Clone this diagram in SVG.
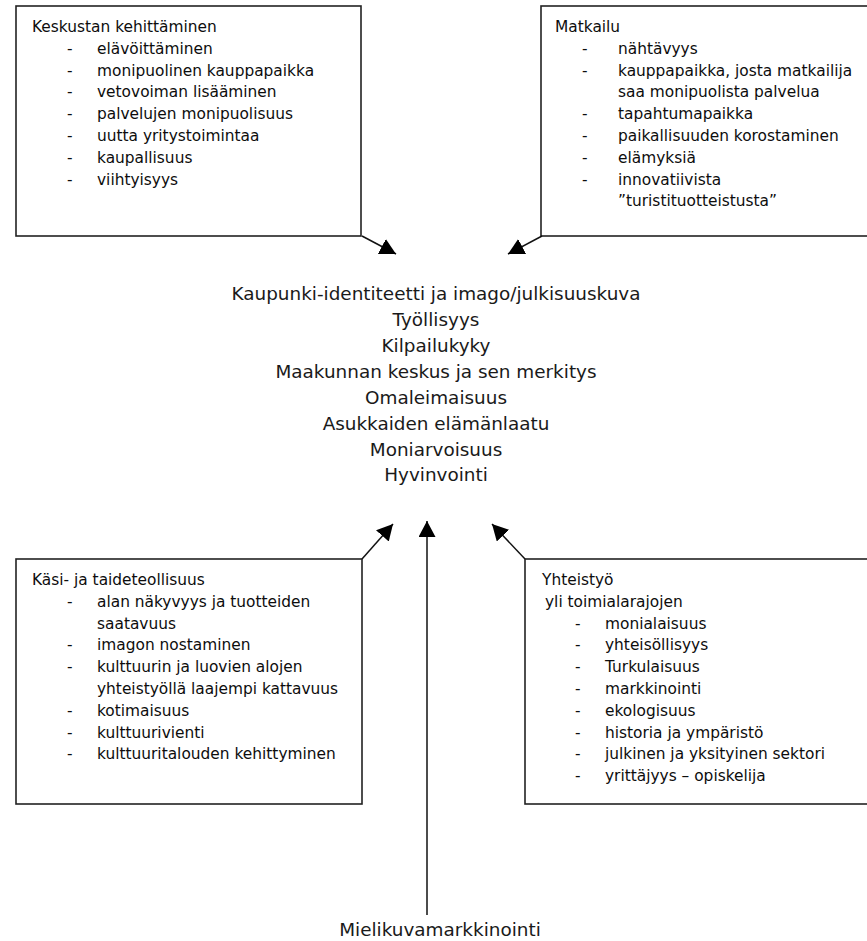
<svg xmlns="http://www.w3.org/2000/svg" width="867" height="941" viewBox="0 0 867 941">
<defs>
<marker id="ah" markerUnits="userSpaceOnUse" markerWidth="18" markerHeight="18" refX="16" refY="8.5" orient="auto">
<path d="M0,0 L16,8.5 L0,17 z" fill="#000"/>
</marker>
</defs>
<style>
.box{fill:#fff;stroke:#222;stroke-width:1.6}
.t{font-family:"DejaVu Sans","Verdana",sans-serif;font-size:15.4px;fill:#0d0d0d}
.c{font-family:"DejaVu Sans","Verdana",sans-serif;font-size:18.4px;fill:#1a1a1a;text-anchor:middle}
.con{stroke:#111;stroke-width:1.5;fill:none;marker-end:url(#ah)}
</style>
<rect width="867" height="941" fill="#fff"/>

<g id="keskusta">
<rect class="box" x="16" y="6" width="345" height="230"/>
<text class="t" x="32" y="32">Keskustan kehittäminen</text>
<g class="t">
<text x="67" y="53.8">-</text><text x="97" y="53.8">elävöittäminen</text>
<text x="67" y="75.6">-</text><text x="97" y="75.6">monipuolinen kauppapaikka</text>
<text x="67" y="97.4">-</text><text x="97" y="97.4">vetovoiman lisääminen</text>
<text x="67" y="119.2">-</text><text x="97" y="119.2">palvelujen monipuolisuus</text>
<text x="67" y="141">-</text><text x="97" y="141">uutta yritystoimintaa</text>
<text x="67" y="162.8">-</text><text x="97" y="162.8">kaupallisuus</text>
<text x="67" y="184.6">-</text><text x="97" y="184.6">viihtyisyys</text>
</g>
</g>

<g id="matkailu">
<rect class="box" x="541" y="6" width="332" height="230"/>
<text class="t" x="555" y="32">Matkailu</text>
<g class="t">
<text x="582" y="53.8">-</text><text x="618" y="53.8">nähtävyys</text>
<text x="582" y="75.6">-</text><text x="618" y="75.6">kauppapaikka, josta matkailija</text>
<text x="618" y="97.4">saa monipuolista palvelua</text>
<text x="582" y="119.2">-</text><text x="618" y="119.2">tapahtumapaikka</text>
<text x="582" y="141">-</text><text x="618" y="141">paikallisuuden korostaminen</text>
<text x="582" y="162.8">-</text><text x="618" y="162.8">elämyksiä</text>
<text x="582" y="184.6">-</text><text x="618" y="184.6">innovatiivista</text>
<text x="618" y="206.4">”turistituotteistusta”</text>
</g>
</g>

<g id="keskus">
<text class="c" x="436" y="300">Kaupunki-identiteetti ja imago/julkisuuskuva</text>
<text class="c" x="436" y="326">Työllisyys</text>
<text class="c" x="436" y="352">Kilpailukyky</text>
<text class="c" x="436" y="378">Maakunnan keskus ja sen merkitys</text>
<text class="c" x="436" y="404">Omaleimaisuus</text>
<text class="c" x="436" y="430">Asukkaiden elämänlaatu</text>
<text class="c" x="436" y="456">Moniarvoisuus</text>
<text class="c" x="436" y="481">Hyvinvointi</text>
</g>

<g id="kasi">
<rect class="box" x="16" y="559" width="346" height="245"/>
<text class="t" x="32" y="585">Käsi- ja taideteollisuus</text>
<g class="t">
<text x="67" y="606.8">-</text><text x="97" y="606.8">alan näkyvyys ja tuotteiden</text>
<text x="97" y="628.6">saatavuus</text>
<text x="67" y="650.4">-</text><text x="97" y="650.4">imagon nostaminen</text>
<text x="67" y="672.2">-</text><text x="97" y="672.2">kulttuurin ja luovien alojen</text>
<text x="97" y="694">yhteistyöllä laajempi kattavuus</text>
<text x="67" y="715.8">-</text><text x="97" y="715.8">kotimaisuus</text>
<text x="67" y="737.6">-</text><text x="97" y="737.6">kulttuurivienti</text>
<text x="67" y="759.4">-</text><text x="97" y="759.4">kulttuuritalouden kehittyminen</text>
</g>
</g>

<g id="yhteistyo">
<rect class="box" x="525" y="559" width="350" height="245"/>
<text class="t" x="542" y="585">Yhteistyö</text>
<text class="t" x="545" y="606.8">yli toimialarajojen</text>
<g class="t">
<text x="575" y="628.6">-</text><text x="605" y="628.6">monialaisuus</text>
<text x="575" y="650.4">-</text><text x="605" y="650.4">yhteisöllisyys</text>
<text x="575" y="672.2">-</text><text x="605" y="672.2">Turkulaisuus</text>
<text x="575" y="694">-</text><text x="605" y="694">markkinointi</text>
<text x="575" y="715.8">-</text><text x="605" y="715.8">ekologisuus</text>
<text x="575" y="737.6">-</text><text x="605" y="737.6">historia ja ympäristö</text>
<text x="575" y="759.4">-</text><text x="605" y="759.4">julkinen ja yksityinen sektori</text>
<text x="575" y="781.2">-</text><text x="605" y="781.2">yrittäjyys – opiskelija</text>
</g>
</g>

<g id="mielikuva">
<text class="c" x="440" y="936">Mielikuvamarkkinointi</text>
</g>

<g id="connectors">
<line class="con" x1="362" y1="236" x2="396" y2="254"/>
<line class="con" x1="542" y1="236" x2="508" y2="254"/>
<line class="con" x1="362" y1="559" x2="393" y2="524"/>
<line class="con" x1="525" y1="559" x2="492" y2="524"/>
<line class="con" x1="427" y1="915" x2="427" y2="521"/>
</g>
</svg>
